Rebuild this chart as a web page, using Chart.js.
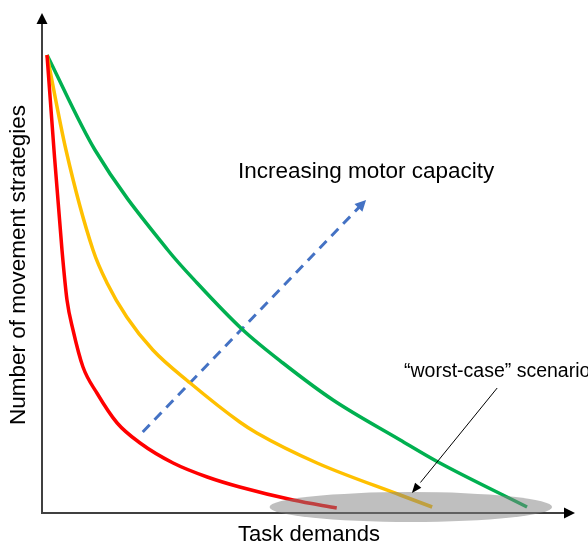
<!DOCTYPE html>
<html>
<head>
<meta charset="utf-8">
<script src="https://cdn.jsdelivr.net/npm/chart.js@4"></script>
<style>
  body { margin: 0; background: #fff; }
  #wrap { width: 588px; height: 542px; }
</style>
</head>
<body>
<div id="wrap"><canvas id="chart"></canvas></div>
<script>
// curves (x = task demands, y = number of strategies, 0..100)
const lowX = [0.94, 2.25, 3.75, 4.69, 5.82, 7.69, 10.3, 14.1, 18.4, 24.6, 31, 37.1, 47.1, 55.3];
const lowY = [91.6, 72.6, 52.6, 42.6, 36.6, 29.2, 24, 18, 14, 10, 7.2, 5.2, 2.6, 1];

const midX = [0.94, 4.5, 9.57, 12.2, 15.9, 20.8, 27.8, 37.1, 40.3, 51.6, 67.2, 73.2];
const midY = [91.6, 72.6, 52.6, 46, 39.2, 32.6, 26, 18.2, 16, 10, 3.6, 1.2];

const highX = [0.94, 9.94, 23.6, 29.1, 37.7, 45.2, 54.6, 67.2, 74.3, 91];
const highY = [91.6, 72.6, 52.6, 46, 36.6, 30, 22.6, 14.6, 10.2, 1.2];

// annotations
const capacityArrow = [[18.9, 16.2], [60.8, 62.6]];
const worstArrow = [[85.4, 25], [69.4, 4]];
const worstZone = { x: 69.2, y: 1.2, rx: 26.5, ry: 3 };

const toPts = (xs, ys) => xs.map((x, i) => ({ x: x, y: ys[i] }));

function arrowHead(ctx, x1, y1, x2, y2, len, wid, color) {
    const a = Math.atan2(y2 - y1, x2 - x1);
    ctx.save();
    ctx.fillStyle = color;
    ctx.translate(x2, y2);
    ctx.rotate(a);
    ctx.beginPath();
    ctx.moveTo(0, 0);
    ctx.lineTo(-len, -wid / 2);
    ctx.lineTo(-len, wid / 2);
    ctx.closePath();
    ctx.fill();
    ctx.restore();
}

const decor = {
    id: 'decor',
    beforeDatasetsDraw(chart) {
        const { ctx, chartArea: ca } = chart;
        // axes with arrow tips
        ctx.save();
        ctx.strokeStyle = '#404040';
        ctx.lineWidth = 2;
        ctx.beginPath();
        ctx.moveTo(ca.left, ca.top + 8);
        ctx.lineTo(ca.left, ca.bottom);
        ctx.lineTo(ca.right - 8, ca.bottom);
        ctx.stroke();
        ctx.restore();
        arrowHead(ctx, ca.left, ca.bottom, ca.left, ca.top, 11, 11, '#000');
        arrowHead(ctx, ca.left, ca.bottom, ca.right, ca.bottom, 11, 11, '#000');
    },
    afterDatasetsDraw(chart) {
        const { ctx, scales: { x, y } } = chart;
        // shaded worst-case region over the curve ends
        ctx.save();
        ctx.fillStyle = 'rgba(128,128,128,0.5)';
        ctx.beginPath();
        ctx.ellipse(x.getPixelForValue(worstZone.x), y.getPixelForValue(worstZone.y),
            x.getPixelForValue(worstZone.x + worstZone.rx) - x.getPixelForValue(worstZone.x),
            y.getPixelForValue(worstZone.y) - y.getPixelForValue(worstZone.y + worstZone.ry),
            0, 0, Math.PI * 2);
        ctx.fill();
        ctx.restore();

        // blue arrow tip
        const bx1 = x.getPixelForValue(capacityArrow[0][0]), by1 = y.getPixelForValue(capacityArrow[0][1]);
        const bx2 = x.getPixelForValue(capacityArrow[1][0]), by2 = y.getPixelForValue(capacityArrow[1][1]);
        arrowHead(ctx, bx1, by1, bx2, by2, 11, 11, '#4472C4');

        // thin black pointer
        const kx1 = x.getPixelForValue(worstArrow[0][0]), ky1 = y.getPixelForValue(worstArrow[0][1]);
        const kx2 = x.getPixelForValue(worstArrow[1][0]), ky2 = y.getPixelForValue(worstArrow[1][1]);
        ctx.save();
        ctx.strokeStyle = '#000';
        ctx.lineWidth = 1;
        ctx.beginPath();
        ctx.moveTo(kx1, ky1);
        ctx.lineTo(kx1 + (kx2 - kx1) * 0.9, ky1 + (ky2 - ky1) * 0.9);
        ctx.stroke();
        ctx.restore();
        arrowHead(ctx, kx1, ky1, kx2, ky2, 10, 8, '#000');

        // labels
        ctx.save();
        ctx.fillStyle = '#000';
        ctx.font = '22.5px "Liberation Sans", Arial, sans-serif';
        ctx.textBaseline = 'alphabetic';
        ctx.textAlign = 'left';
        ctx.fillText('Increasing motor capacity', 238, 178);
        ctx.font = '22px "Liberation Sans", Arial, sans-serif';
        ctx.textAlign = 'center';
        ctx.fillText('Task demands', 309, 541);
        ctx.font = '19.5px "Liberation Sans", Arial, sans-serif';
        ctx.textAlign = 'left';
        ctx.fillText('\u201cworst-case\u201d scenario', 404, 377);
        ctx.translate(25, 265);
        ctx.rotate(-Math.PI / 2);
        ctx.textAlign = 'center';
        ctx.font = '22.5px "Liberation Sans", Arial, sans-serif';
        ctx.fillText('Number of movement strategies', 0, 0);
        ctx.restore();
    }
};

const lineDs = (label, pts, color) => ({
    label: label,
    data: pts,
    borderColor: color,
    borderWidth: 3.5,
    pointRadius: 0,
    cubicInterpolationMode: 'monotone',
    clip: false
});

new Chart(document.getElementById('chart'), {
    type: 'line',
    data: {
        datasets: [
            lineDs('low', toPts(lowX, lowY), '#FF0000'),
            lineDs('mid', toPts(midX, midY), '#FFC000'),
            lineDs('high', toPts(highX, highY), '#00B050'),
            {
                label: 'capacity',
                data: capacityArrow.map(p => ({ x: p[0], y: p[1] })),
                borderColor: '#4472C4',
                borderWidth: 3,
                borderDash: [10, 7],
                pointRadius: 0,
                tension: 0,
                clip: false
            }
        ]
    },
    options: {
        responsive: true, maintainAspectRatio: false,
        animation: false,
        layout: { padding: { left: 42, right: 13, top: 13, bottom: 29 } },
        plugins: { legend: { display: false }, tooltip: { enabled: false } },
        scales: {
            x: { type: 'linear', min: 0, max: 100, display: false },
            y: { type: 'linear', min: 0, max: 100, display: false }
        }
    },
    plugins: [decor]
});
</script>
</body>
</html>
